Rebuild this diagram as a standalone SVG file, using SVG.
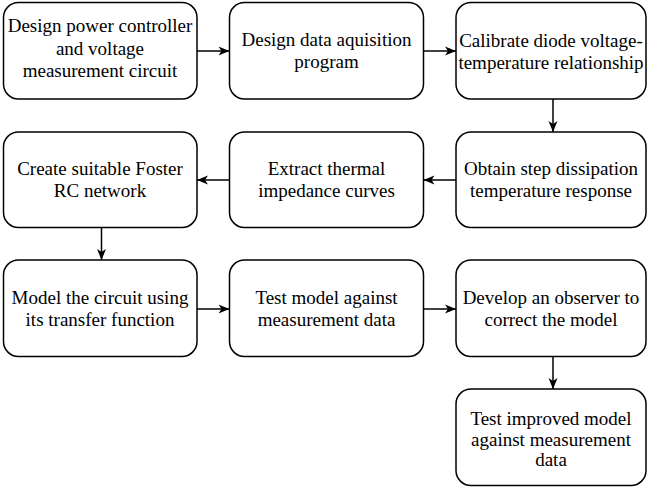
<svg xmlns="http://www.w3.org/2000/svg" width="648" height="487" viewBox="0 0 648 487">
<style>
.box{fill:#fff;stroke:#000;stroke-width:1.5}
text{font-family:'Liberation Serif','Times New Roman','DejaVu Serif',serif;font-size:19px;fill:#000;text-anchor:middle}
.c{stroke:#000;stroke-width:1.5;fill:none;marker-end:url(#ah)}
</style>
<defs>
<marker id="ah" markerUnits="userSpaceOnUse" markerWidth="12" markerHeight="10" refX="11" refY="5" orient="auto" viewBox="0 0 12 10">
<path d="M0,0.5 L11,5 L0,9.5 L3,5 z" fill="#000"/>
</marker>
</defs>
<rect width="648" height="487" fill="#fff"/>
<g id="n1"><rect class="box" x="3.5" y="2.5" width="193.5" height="96.5" rx="15"/>
<text x="100" y="32" font-family="Liberation Serif, serif">Design power controller</text><text x="100" y="54.5" font-family="Liberation Serif, serif">and voltage</text><text x="100" y="77" font-family="Liberation Serif, serif">measurement circuit</text></g>
<g id="n2"><rect class="box" x="229.5" y="2.5" width="194" height="96.5" rx="15"/>
<text x="326.5" y="46">Design data aquisition</text><text x="326.5" y="67.5">program</text></g>
<g id="n3"><rect class="box" x="456" y="2.5" width="190" height="96.5" rx="15"/>
<text x="551" y="47">Calibrate diode voltage-</text><text x="551" y="68.5">temperature relationship</text></g>
<g id="n4"><rect class="box" x="456" y="132" width="190" height="95.5" rx="15"/>
<text x="551" y="175">Obtain step dissipation</text><text x="551" y="196.5">temperature response</text></g>
<g id="n5"><rect class="box" x="229.5" y="132" width="194" height="95.5" rx="15"/>
<text x="326.5" y="175">Extract thermal</text><text x="326.5" y="196.5">impedance curves</text></g>
<g id="n6"><rect class="box" x="3.5" y="132" width="193.5" height="95.5" rx="15"/>
<text x="100" y="175">Create suitable Foster</text><text x="100" y="196.5">RC network</text></g>
<g id="n7"><rect class="box" x="3.5" y="260" width="193.5" height="96.5" rx="15"/>
<text x="100" y="304">Model the circuit using</text><text x="100" y="325.5">its transfer function</text></g>
<g id="n8"><rect class="box" x="229.5" y="260" width="194" height="96.5" rx="15"/>
<text x="326.5" y="304">Test model against</text><text x="326.5" y="325.5">measurement data</text></g>
<g id="n9"><rect class="box" x="456" y="260" width="190" height="96.5" rx="15"/>
<text x="551" y="304">Develop an observer to</text><text x="551" y="325.5">correct the model</text></g>
<g id="n10"><rect class="box" x="456" y="389" width="190" height="96.5" rx="15"/>
<text x="551" y="425">Test improved model</text><text x="551" y="445.5">against measurement</text><text x="551" y="466">data</text></g>
<g id="connectors">
<line class="c" x1="197" y1="51" x2="229.5" y2="51"/>
<line class="c" x1="423.5" y1="51" x2="456" y2="51"/>
<line class="c" x1="553" y1="99" x2="553" y2="132"/>
<line class="c" x1="456" y1="180" x2="423.5" y2="180"/>
<line class="c" x1="229.5" y1="180" x2="197" y2="180"/>
<line class="c" x1="101.5" y1="227.5" x2="101.5" y2="260"/>
<line class="c" x1="197" y1="309" x2="229.5" y2="309"/>
<line class="c" x1="423.5" y1="309" x2="456" y2="309"/>
<line class="c" x1="553" y1="356.5" x2="553" y2="389"/>
</g>
</svg>
